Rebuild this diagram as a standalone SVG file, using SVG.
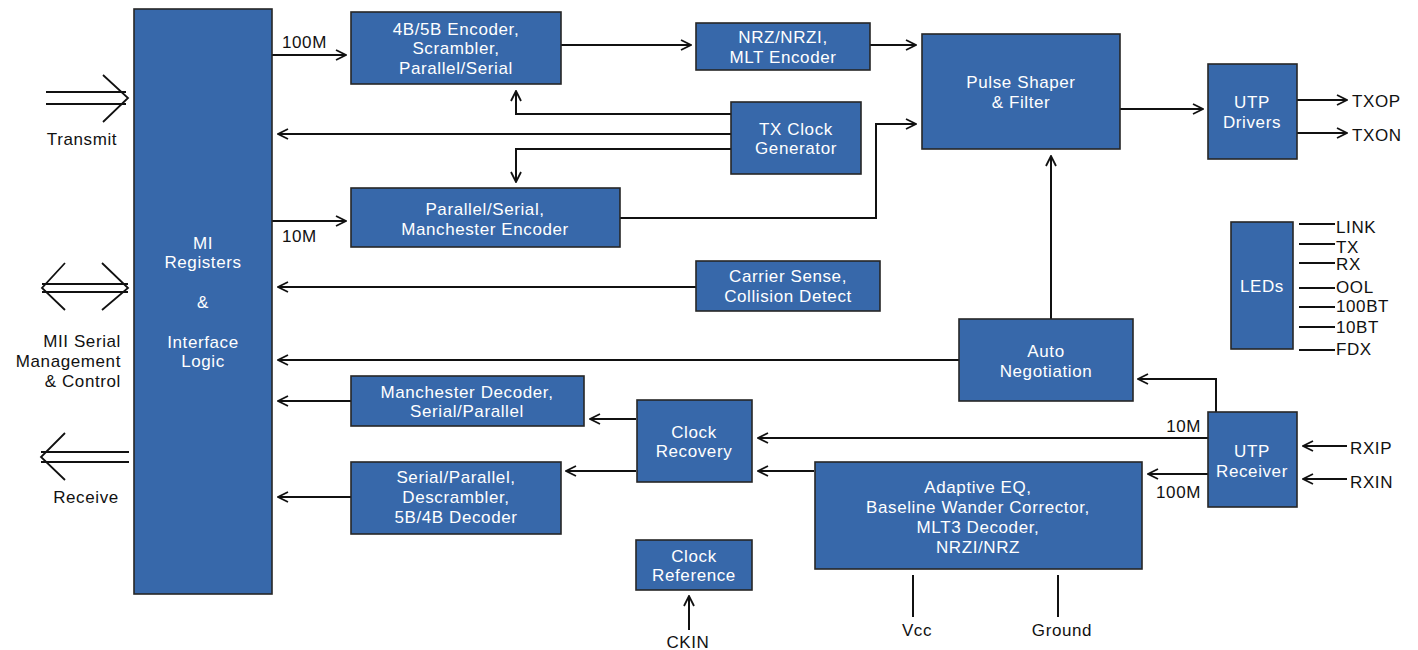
<svg xmlns="http://www.w3.org/2000/svg" width="1418" height="650" viewBox="0 0 1418 650">
<defs>
<style>
.box{fill:#3768aa;stroke:#262626;stroke-width:1.6}
.bt{font-family:"Liberation Sans",Arial,sans-serif;font-size:17px;letter-spacing:0.6px;fill:#ffffff;text-anchor:middle}
.lt{font-family:"Liberation Sans",Arial,sans-serif;font-size:17px;letter-spacing:0.6px;fill:#111111}
.c{fill:none;stroke:#111111;stroke-width:2}
.big{fill:none;stroke:#111111;stroke-width:1.8}
</style>
<marker id="ah" viewBox="0 0 12 12" refX="11" refY="6" markerWidth="12" markerHeight="12" markerUnits="userSpaceOnUse" orient="auto">
<path d="M1,1 L11,6 L1,11" fill="none" stroke="#111111" stroke-width="1.8"/>
</marker>
</defs>
<rect width="1418" height="650" fill="#ffffff"/>

<g id="connectors">
<path class="c" d="M272,55 H346" marker-end="url(#ah)"/>
<path class="c" d="M561,45 H691" marker-end="url(#ah)"/>
<path class="c" d="M870,45 H916" marker-end="url(#ah)"/>
<path class="c" d="M731,114 H516 V91" marker-end="url(#ah)"/>
<path class="c" d="M731,134 H278" marker-end="url(#ah)"/>
<path class="c" d="M731,149 H516 V182" marker-end="url(#ah)"/>
<path class="c" d="M272,221 H346" marker-end="url(#ah)"/>
<path class="c" d="M620,218 H876 V124 H916" marker-end="url(#ah)"/>
<path class="c" d="M1120,109 H1203" marker-end="url(#ah)"/>
<path class="c" d="M1297,100 H1347" marker-end="url(#ah)"/>
<path class="c" d="M1297,133 H1347" marker-end="url(#ah)"/>
<path class="c" d="M696,287 H278" marker-end="url(#ah)"/>
<path class="c" d="M959,360 H278" marker-end="url(#ah)"/>
<path class="c" d="M1051,319 V156" marker-end="url(#ah)"/>
<path class="c" d="M1216,412 V379 H1138" marker-end="url(#ah)"/>
<path class="c" d="M1208,438 H758" marker-end="url(#ah)"/>
<path class="c" d="M1208,474 H1148" marker-end="url(#ah)"/>
<path class="c" d="M1347,446 H1303" marker-end="url(#ah)"/>
<path class="c" d="M1347,479 H1303" marker-end="url(#ah)"/>
<path class="c" d="M814,471 H758" marker-end="url(#ah)"/>
<path class="c" d="M636,419 H590" marker-end="url(#ah)"/>
<path class="c" d="M636,471 H566" marker-end="url(#ah)"/>
<path class="c" d="M351,401 H278" marker-end="url(#ah)"/>
<path class="c" d="M351,497 H278" marker-end="url(#ah)"/>
<path class="c" d="M689,630 V596" marker-end="url(#ah)"/>
<path class="c" d="M913,575 V617"/>
<path class="c" d="M1058,575 V617"/>
<path class="c" d="M1299,224 H1335 M1299,244 H1335 M1299,263 H1335 M1299,288 H1335 M1299,307 H1335 M1299,327 H1335 M1299,350 H1335"/>
<path class="big" d="M46,92 H126 M46,104 H126 M103,75 L128,98 L103,122"/>
<path class="big" d="M42,284 H128 M42,292 H128 M65,263 L42,288 L65,310 M102,263 L128,288 L102,310"/>
<path class="big" d="M41,452 H129 M41,462 H129 M65,433 L41,457 L65,480"/>
</g>

<g id="labels">
<text class="lt" x="282" y="48">100M</text>
<text class="lt" x="282" y="242">10M</text>
<text class="lt" x="82" y="145" text-anchor="middle">Transmit</text>
<text class="lt" x="121" y="347" text-anchor="end">MII Serial</text>
<text class="lt" x="121" y="367" text-anchor="end">Management</text>
<text class="lt" x="121" y="387" text-anchor="end">&amp; Control</text>
<text class="lt" x="86" y="503" text-anchor="middle">Receive</text>
<text class="lt" x="1352" y="107">TXOP</text>
<text class="lt" x="1352" y="141">TXON</text>
<text class="lt" x="1336" y="233">LINK</text>
<text class="lt" x="1336" y="253">TX</text>
<text class="lt" x="1336" y="270">RX</text>
<text class="lt" x="1336" y="293">OOL</text>
<text class="lt" x="1336" y="312">100BT</text>
<text class="lt" x="1336" y="333">10BT</text>
<text class="lt" x="1336" y="355">FDX</text>
<text class="lt" x="1201" y="432" text-anchor="end">10M</text>
<text class="lt" x="1201" y="498" text-anchor="end">100M</text>
<text class="lt" x="1350" y="454">RXIP</text>
<text class="lt" x="1350" y="488">RXIN</text>
<text class="lt" x="688" y="648" text-anchor="middle">CKIN</text>
<text class="lt" x="917" y="636" text-anchor="middle">Vcc</text>
<text class="lt" x="1062" y="636" text-anchor="middle">Ground</text>
</g>

<g id="mi">
<rect class="box" x="134" y="9" width="138" height="585"/>
<text class="bt" x="203" y="249">MI</text>
<text class="bt" x="203" y="268">Registers</text>
<text class="bt" x="203" y="308">&amp;</text>
<text class="bt" x="203" y="348">Interface</text>
<text class="bt" x="203" y="367">Logic</text>
</g>
<g id="enc4b5b">
<rect class="box" x="351" y="12" width="210" height="72"/>
<text class="bt" x="456" y="35">4B/5B Encoder,</text>
<text class="bt" x="456" y="54">Scrambler,</text>
<text class="bt" x="456" y="74">Parallel/Serial</text>
</g>
<g id="nrz">
<rect class="box" x="696" y="23" width="174" height="47"/>
<text class="bt" x="783" y="43">NRZ/NRZI,</text>
<text class="bt" x="783" y="63">MLT Encoder</text>
</g>
<g id="txclock">
<rect class="box" x="731" y="102" width="130" height="72"/>
<text class="bt" x="796" y="135">TX Clock</text>
<text class="bt" x="796" y="154">Generator</text>
</g>
<g id="pulse">
<rect class="box" x="922" y="34" width="198" height="115"/>
<text class="bt" x="1021" y="88">Pulse Shaper</text>
<text class="bt" x="1021" y="108">&amp; Filter</text>
</g>
<g id="utpdrivers">
<rect class="box" x="1208" y="64" width="89" height="95"/>
<text class="bt" x="1252" y="108">UTP</text>
<text class="bt" x="1252" y="128">Drivers</text>
</g>
<g id="manenc">
<rect class="box" x="351" y="188" width="269" height="59"/>
<text class="bt" x="485" y="215">Parallel/Serial,</text>
<text class="bt" x="485" y="235">Manchester Encoder</text>
</g>
<g id="carrier">
<rect class="box" x="696" y="261" width="184" height="50"/>
<text class="bt" x="788" y="282">Carrier Sense,</text>
<text class="bt" x="788" y="302">Collision Detect</text>
</g>
<g id="leds">
<rect class="box" x="1231" y="222" width="62" height="127"/>
<text class="bt" x="1262" y="292">LEDs</text>
</g>
<g id="autoneg">
<rect class="box" x="959" y="319" width="174" height="82"/>
<text class="bt" x="1046" y="357">Auto</text>
<text class="bt" x="1046" y="377">Negotiation</text>
</g>
<g id="utprx">
<rect class="box" x="1208" y="412" width="89" height="95"/>
<text class="bt" x="1252" y="457">UTP</text>
<text class="bt" x="1252" y="477">Receiver</text>
</g>
<g id="mandec">
<rect class="box" x="351" y="376" width="233" height="50"/>
<text class="bt" x="467" y="398">Manchester Decoder,</text>
<text class="bt" x="467" y="417">Serial/Parallel</text>
</g>
<g id="clockrec">
<rect class="box" x="637" y="400" width="115" height="82"/>
<text class="bt" x="694" y="438">Clock</text>
<text class="bt" x="694" y="457">Recovery</text>
</g>
<g id="dec5b4b">
<rect class="box" x="351" y="462" width="210" height="72"/>
<text class="bt" x="456" y="483">Serial/Parallel,</text>
<text class="bt" x="456" y="503">Descrambler,</text>
<text class="bt" x="456" y="523">5B/4B Decoder</text>
</g>
<g id="adaptive">
<rect class="box" x="815" y="462" width="327" height="107"/>
<text class="bt" x="978" y="493">Adaptive EQ,</text>
<text class="bt" x="978" y="513">Baseline Wander Corrector,</text>
<text class="bt" x="978" y="533">MLT3 Decoder,</text>
<text class="bt" x="978" y="553">NRZI/NRZ</text>
</g>
<g id="clockref">
<rect class="box" x="636" y="540" width="116" height="50"/>
<text class="bt" x="694" y="562">Clock</text>
<text class="bt" x="694" y="581">Reference</text>
</g>
</svg>
